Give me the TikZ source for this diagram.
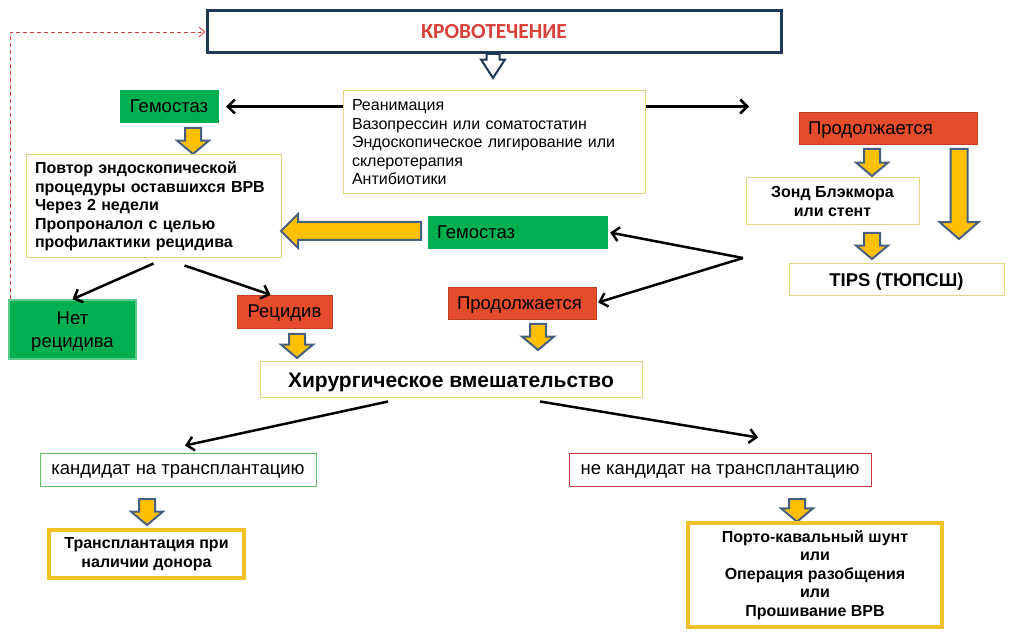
\documentclass[tikz,border=0pt]{standalone}
\usepackage{fontspec}
\setmainfont{Liberation Sans}
\newfontfamily\titlefont{Carlito}
\usetikzlibrary{positioning,shapes.arrows,arrows.meta}

\definecolor{navy}{RGB}{31,56,86}
\definecolor{bleedred}{RGB}{217,64,58}
\definecolor{okgreen}{RGB}{0,176,80}
\definecolor{stopred}{RGB}{228,76,44}
\definecolor{amber}{RGB}{255,192,0}
\definecolor{slate}{RGB}{72,96,128}
\definecolor{paleyellow}{RGB}{226,214,130}
\definecolor{gold}{RGB}{240,194,40}
\definecolor{thingreen}{RGB}{100,190,100}
\definecolor{thinred}{RGB}{192,60,60}

\begin{document}
\begin{tikzpicture}[x=1pt, y=-1pt,
	every node/.style = {font=\fontsize{16}{18.5}\selectfont},
	infobox/.style = {rectangle, draw=paleyellow, line width=1pt, fill=white,
	inner xsep=9pt, inner ysep=0pt},
	goldbox/.style = {rectangle, draw=gold, line width=4pt, fill=white,
	align=center, font=\fontsize{16}{18.5}\selectfont\bfseries},
	greenbox/.style = {rectangle, fill=okgreen, draw=okgreen, inner xsep=9pt,
	text depth=0pt, font=\fontsize{18.5}{22.5}\selectfont},
	redbox/.style = {rectangle, fill=stopred, draw=stopred!85!black, inner xsep=9pt,
	text depth=0pt, font=\fontsize{18.5}{22.5}\selectfont},
	yarrow/.style = {single arrow, shape border rotate=270, anchor=tail,
	fill=amber, draw=slate, line width=2pt, inner sep=7pt,
	single arrow head extend=8pt, single arrow tip angle=100, minimum height=26pt},
	link/.style = {draw, line width=2.5pt, -{Straight Barb[length=7pt,width=14pt]}} ]

  \useasboundingbox (0,0) rectangle (1013,644);

  % top of the chart
  \node [name=bleed, rectangle, draw=navy, line width=3pt, fill=white,
	minimum width=574, minimum height=42, text=bleedred,
	font=\titlefont\bfseries\fontsize{21.5}{24}\selectfont] at (494,32) { КРОВОТЕЧЕНИЕ };
  \node [name=down, single arrow, shape border rotate=270, anchor=tail,
	fill=white, draw=navy, line width=2pt, inner sep=5.5pt,
	single arrow head extend=5.5pt, single arrow tip angle=66,
	minimum height=24pt] at (493,53) {};
  \node [name=meds, infobox, minimum width=302, minimum height=103,
	text width=284, align=left] at (494,142.5)
	{ Реанимация\\ Вазопрессин или соматостатин\\ Эндоскопическое лигирование или\\
	  склеротерапия\\ Антибиотики };

  % left branch
  \node [name=gem1, greenbox, minimum width=98, minimum height=32] at (169,106.5) { Гемостаз };
  \node [name=ya1, yarrow] at (193,127) {};
  \node [name=povt, infobox, minimum width=255, minimum height=103, text width=237,
	align=left, font=\fontsize{16}{18.5}\selectfont\bfseries] at (153.5,206.5)
	{ Повтор эндоскопической\\ процедуры оставшихся ВРВ\\ Через 2 недели\\
	  Пропроналол с целью\\ профилактики рецидива };
  \node [name=net, greenbox, draw=okgreen!65!white, line width=1.5pt,
	minimum width=127, minimum height=59, align=center] at (72.5,329.5) { Нет\\ рецидива };
  \node [name=rec, redbox, minimum width=95, minimum height=33] at (284.5,311.5) { Рецидив };
  \node [name=ya4, yarrow, minimum height=24pt] at (297,333) {};

  % right branch
  \node [name=prod1, redbox, minimum width=178, minimum height=32, text width=160,
	align=left] at (888,128) { Продолжается };
  \node [name=ya2, yarrow, minimum height=27pt] at (872,148) {};
  \node [name=longa, yarrow, minimum height=90pt, inner sep=7.5pt,
	single arrow head extend=11pt, single arrow tip angle=98] at (959,148) {};
  \node [name=blak, infobox, minimum width=173, minimum height=47, align=center,
	font=\fontsize{16}{19}\selectfont\bfseries] at (832.5,201.5) { Зонд Блэкмора\\ или стент };
  \node [name=ya3, yarrow] at (872,232) {};
  \node [name=tips, infobox, minimum width=215, minimum height=32, text depth=0pt,
	font=\fontsize{18.5}{22}\selectfont\bfseries] at (896.5,280) { TIPS (ТЮПСШ) };

  % middle
  \node [name=gem2, greenbox, minimum width=179, minimum height=32, text width=161,
	align=left] at (517.5,232) { Гемостаз };
  \node [name=back, single arrow, shape border rotate=180, anchor=tail,
	fill=amber, draw=slate, line width=2pt, inner sep=8pt,
	single arrow head extend=8pt, single arrow tip angle=90,
	minimum height=140pt] at (422,231) {};
  \node [name=prod2, redbox, minimum width=148, minimum height=32, text width=130,
	align=left] at (522,303) { Продолжается };
  \node [name=ya5, yarrow] at (538,323) {};
  \node [name=surg, infobox, minimum width=382, minimum height=36, text depth=0pt,
	font=\fontsize{21}{24}\selectfont\bfseries] at (451,380) { Хирургическое вмешательство };

  % bottom
  \node [name=cand, rectangle, draw=thingreen, line width=1pt, minimum width=276,
	minimum height=32, text depth=0pt, font=\fontsize{18.5}{22}\selectfont] at (178,470)
	{ кандидат на трансплантацию };
  \node [name=ya6, yarrow] at (147,498) {};
  \node [name=donor, goldbox, minimum width=195, minimum height=48] at (146.5,554)
	{ Трансплантация при\\ наличии донора };
  \node [name=ncand, rectangle, draw=thinred, line width=1pt, minimum width=302,
	minimum height=32, text depth=0pt, font=\fontsize{18.5}{22}\selectfont] at (720,470)
	{ не кандидат на трансплантацию };
  \node [name=ya7, yarrow, minimum height=22pt] at (797,498) {};
  \node [name=porto, goldbox, minimum width=254, minimum height=104] at (815,575)
	{ Порто-кавальный шунт\\ или\\ Операция разобщения\\ или\\ Прошивание ВРВ };

  % connectors
  \coordinate (rgt) at (749,106.5);
  \coordinate (fork) at (743,258);
  \draw [link, shorten >=8pt] (meds.west |- gem1.east) -- (gem1.east);
  \draw [link] (meds.east |- gem1.east) -- (rgt);
  \draw [link, shorten >=3pt] (fork) -- (gem2.east);
  \draw [link, shorten >=2pt] (fork) -- (prod2.east);
  \draw [link] ([yshift=-5pt]povt.south) -- (net.north);
  \draw [link] ([xshift=31pt,yshift=-7pt]povt.south) -- ([xshift=-14pt]rec.north);
  \draw [link] ([xshift=-63pt,yshift=-3pt]surg.south) -- ([xshift=7pt,yshift=8pt]cand.north);
  \draw [link] ([xshift=89pt,yshift=-3pt]surg.south) -- ([xshift=38pt,yshift=16pt]ncand.north);
  \draw [draw=bleedred, line width=0.8pt, dash pattern=on 4pt off 3pt,
	-{Straight Barb[length=6pt,width=10pt]}]
	([xshift=2pt]net.north west) |- (bleed.west);
\end{tikzpicture}
\end{document}
